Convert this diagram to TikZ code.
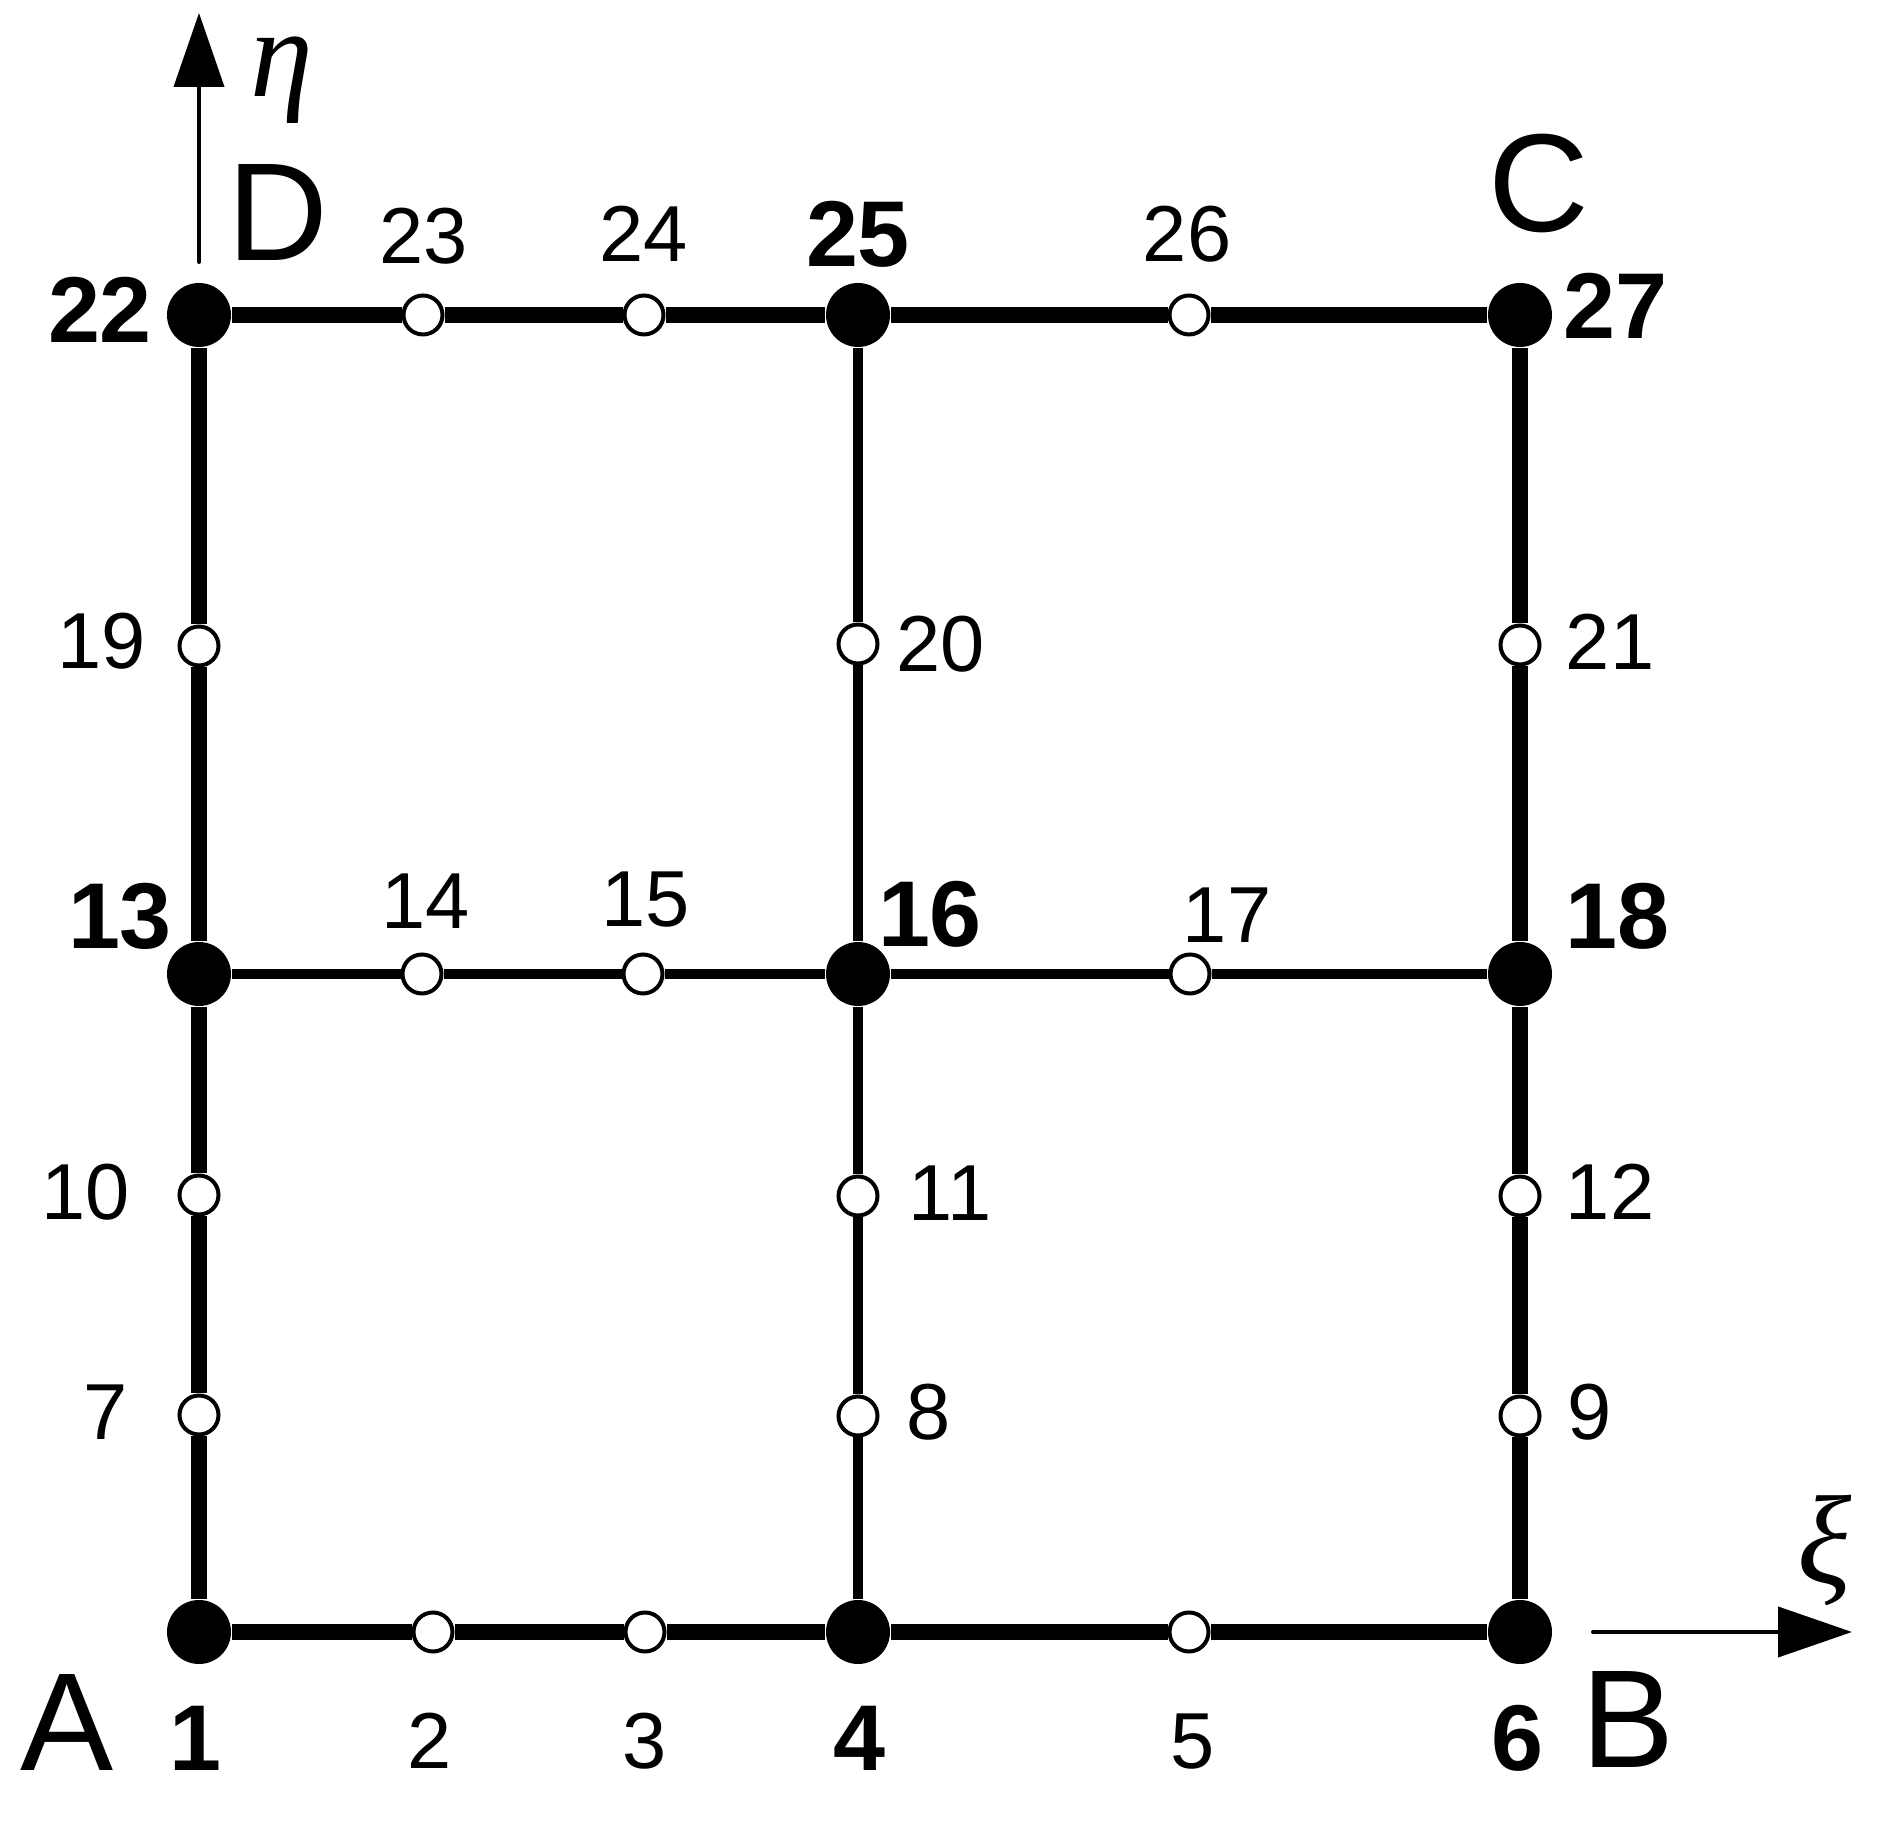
\documentclass[tikz,border=0pt]{standalone}
\usepackage{fontspec}
\setmainfont{Liberation Sans}
\newfontfamily\greekfont{Liberation Serif}
\usetikzlibrary{arrows.meta}

\begin{document}
\begin{tikzpicture}[semithick]
\tikzstyle{vertex}=[circle,fill=black,inner sep=0pt,minimum size=0.64cm]
\tikzstyle{midnode}=[circle,draw=black,fill=white,line width=0.04cm,inner sep=0pt,minimum size=0.39cm]
\tikzstyle{num}=[inner sep=0pt,font=\fontsize{22.6}{26}\selectfont]
\tikzstyle{bnum}=[inner sep=0pt,font=\fontsize{26.6}{30}\selectfont\bfseries]
\tikzstyle{letter}=[inner sep=0pt,font=\fontsize{39.7}{44}\selectfont]
\tikzstyle{greek}=[inner sep=0pt,font=\fontsize{36}{40}\selectfont\greekfont\itshape]
\tikzstyle{outerline}=[line width=0.165cm]
\tikzstyle{innerline}=[line width=0.1cm]
\tikzstyle{axis}=[line width=0.04cm,line cap=round,-{Triangle[length=0.74cm,width=0.5cm]}]
\useasboundingbox (-1.99,-1.98) rectangle (16.83,16.32);

% corner and middle points
\node[vertex] (n1) at (0,0) {};
\node[midnode] (n2) at (2.34,0) {};
\node[midnode] (n3) at (4.46,0) {};
\node[vertex] (n4) at (6.59,0) {};
\node[midnode] (n5) at (9.90,0) {};
\node[vertex] (n6) at (13.21,0) {};
\node[midnode] (n7) at (0,2.17) {};
\node[midnode] (n8) at (6.59,2.16) {};
\node[midnode] (n9) at (13.21,2.16) {};
\node[midnode] (n10) at (0,4.37) {};
\node[midnode] (n11) at (6.59,4.36) {};
\node[midnode] (n12) at (13.21,4.36) {};
\node[vertex] (n13) at (0,6.58) {};
\node[midnode] (n14) at (2.23,6.58) {};
\node[midnode] (n15) at (4.44,6.58) {};
\node[vertex] (n16) at (6.59,6.58) {};
\node[midnode] (n17) at (9.91,6.58) {};
\node[vertex] (n18) at (13.21,6.58) {};
\node[midnode] (n19) at (0,9.86) {};
\node[midnode] (n20) at (6.59,9.88) {};
\node[midnode] (n21) at (13.21,9.87) {};
\node[vertex] (n22) at (0,13.17) {};
\node[midnode] (n23) at (2.24,13.17) {};
\node[midnode] (n24) at (4.45,13.17) {};
\node[vertex] (n25) at (6.59,13.17) {};
\node[midnode] (n26) at (9.90,13.17) {};
\node[vertex] (n27) at (13.21,13.17) {};

% element edges
\draw[outerline] (n1) -- (n2) -- (n3) -- (n4) -- (n5) -- (n6);
\draw[outerline] (n6) -- (n9) -- (n12) -- (n18) -- (n21) -- (n27);
\draw[outerline] (n22) -- (n23) -- (n24) -- (n25) -- (n26) -- (n27);
\draw[outerline] (n1) -- (n7) -- (n10) -- (n13) -- (n19) -- (n22);
\draw[innerline] (n4) -- (n8) -- (n11) -- (n16) -- (n20) -- (n25);
\draw[innerline] (n13) -- (n14) -- (n15) -- (n16) -- (n17) -- (n18);

% numbers
\node[bnum] (t1) at (-0.04,-1.06) {1};
\node[num] (t2) at (2.31,-1.09) {2};
\node[num] (t3) at (4.46,-1.09) {3};
\node[bnum] (t4) at (6.60,-1.06) {4};
\node[num] (t5) at (9.94,-1.10) {5};
\node[bnum] (t6) at (13.18,-1.06) {6};
\node[num] (t7) at (-0.93,2.20) {7};
\node[num] (t8) at (7.30,2.20) {8};
\node[num] (t9) at (13.91,2.20) {9};
\node[num] (t10) at (-1.13,4.40) {10};
\node[num] (t11) at (7.51,4.39) {11};
\node[num] (t12) at (14.11,4.40) {12};
\node[bnum] (t13) at (-0.79,7.16) {13};
\node[num] (t14) at (2.27,7.31) {14};
\node[num] (t15) at (4.47,7.32) {15};
\node[bnum] (t16) at (7.31,7.18) {16};
\node[num] (t17) at (10.28,7.17) {17};
\node[bnum] (t18) at (14.18,7.16) {18};
\node[num] (t19) at (-0.97,9.91) {19};
\node[num] (t20) at (7.42,9.88) {20};
\node[num] (t21) at (14.11,9.90) {21};
\node[bnum] (t22) at (-0.99,13.22) {22};
\node[num] (t23) at (2.25,13.96) {23};
\node[num] (t24) at (4.45,13.98) {24};
\node[bnum] (t25) at (6.59,13.98) {25};
\node[num] (t26) at (9.88,13.98) {26};
\node[bnum] (t27) at (14.16,13.26) {27};

% corners
\node[letter] (A) at (-1.32,-0.90) {A};
\node[letter] (B) at (14.29,-0.88) {B};
\node[letter] (C) at (13.40,14.49) {C};
\node[letter] (D) at (0.79,14.19) {D};

% axes
\coordinate (etafoot) at (0,13.70);
\coordinate (etatip) at (0,16.19);
\draw[axis] (etafoot) -- (etatip);
\node[greek] (eta) at (0.83,15.52) {η};
\coordinate (xifoot) at (13.94,0);
\coordinate (xitip) at (16.53,0);
\draw[axis] (xifoot) -- (xitip);
\node[greek] (xi) at (16.26,0.82) {ξ};
\end{tikzpicture}
\end{document}
